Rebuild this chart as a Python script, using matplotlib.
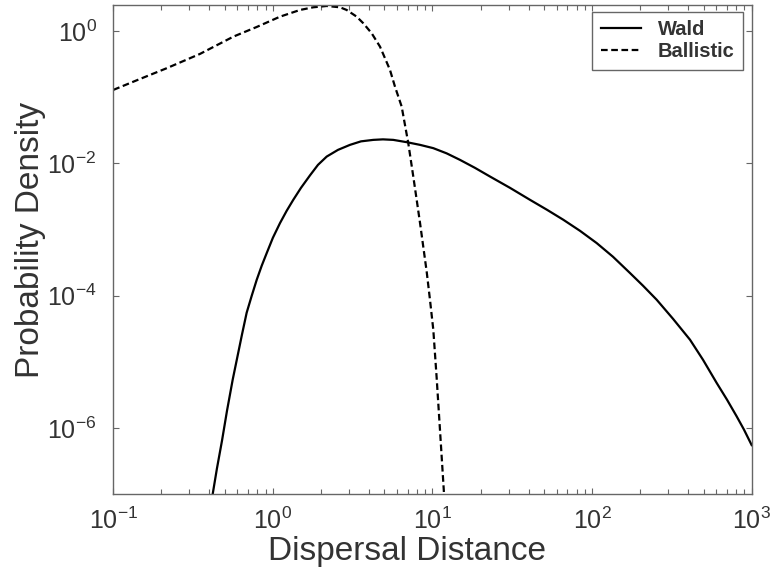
import numpy as np
import matplotlib
matplotlib.use("Agg")
import matplotlib.pyplot as plt
from matplotlib.ticker import LogLocator, FixedLocator, LogFormatterSciNotation, NullLocator

plt.rcParams['font.family'] = ['Liberation Sans', 'DejaVu Sans']
plt.rcParams['mathtext.fontset'] = 'custom'
plt.rcParams['mathtext.rm'] = 'Liberation Sans'
plt.rcParams['mathtext.default'] = 'regular'

# values
wald_x = [0.42, 0.446, 0.480, 0.516, 0.560, 0.596, 0.640, 0.685, 0.737, 0.792,
          0.851, 0.915, 1.00, 1.108, 1.22, 1.342, 1.50, 1.708, 1.917, 2.174,
          2.558, 3.042, 3.565, 4.257, 4.895, 5.680, 6.891, 8.352, 10.12, 12.27,
          14.87, 18.46, 22.93, 30.59, 40.83, 52.17, 65.99, 84.0, 106.9, 135.2,
          172.8, 208.4, 254.0, 321.2, 410.7, 495.4, 603.6, 700.2, 805.4, 894.9, 1000]
wald_y = [1.01e-7, 2.42e-7, 6.41e-7, 1.82e-6, 5.35e-6, 1.11e-5, 2.56e-5, 5.50e-5,
          9.93e-5, 1.73e-4, 2.82e-4, 4.39e-4, 7.47e-4, 1.245e-3, 1.91e-3, 2.80e-3,
          4.25e-3, 6.56e-3, 9.46e-3, 0.01262, 0.01593, 0.01897, 0.02143, 0.02256,
          0.02297, 0.02256, 0.02083, 0.01897, 0.01691, 0.01411, 0.01125, 8.52e-3,
          6.30e-3, 4.25e-3, 2.80e-3, 1.98e-3, 1.40e-3, 9.52e-4, 6.21e-4, 3.86e-4,
          2.19e-4, 1.41e-4, 8.64e-5, 4.46e-5, 2.15e-5, 1.07e-5, 4.77e-6, 2.67e-6,
          1.49e-6, 9.40e-7, 5.48e-7]

ball_x = [0.1, 0.147, 0.216, 0.349, 0.565, 0.792, 1.108, 1.478, 1.791, 2.174,
          2.633, 2.900, 3.351, 3.685, 4.159, 4.691, 5.04, 5.416, 5.821, 6.412,
          6.724, 7.054, 7.581, 7.962, 8.352, 8.757, 9.199, 9.645, 10.12, 10.62,
          11.14, 11.81, 12.15]
ball_y = [0.1285, 0.188, 0.2733, 0.4494, 0.8202, 1.149, 1.644, 2.076, 2.280, 2.386,
          2.280, 2.076, 1.644, 1.307, 0.923, 0.579, 0.387, 0.2576, 0.1441, 0.0719,
          0.0380, 0.0201, 6.30e-3, 2.80e-3, 1.26e-3, 5.46e-4, 2.29e-4, 8.64e-5,
          3.04e-5, 5.73e-6, 9.40e-7, 1.01e-7, 4.1e-8]

series_names = ["Wald", "Ballistic"]
x_limits = (0.1, 1000)
y_limits = (1e-7, 2.47)
y_ticks = [1e0, 1e-2, 1e-4, 1e-6]

text_col = '#333333'
axis_col = '#666666'

fig = plt.figure(figsize=(7.77, 5.73), dpi=100)
ax = fig.add_axes([0.1458, 0.1379, 0.8216, 0.8534])

ax.plot(wald_x, wald_y, color='black', lw=1.6, label=series_names[0])
ax.plot(ball_x, ball_y, color='black', lw=1.6, linestyle=(0, (3, 1.6)),
        label=series_names[1])

ax.set_xscale('log')
ax.set_yscale('log')
ax.set_xlim(*x_limits)
ax.set_ylim(*y_limits)

ax.xaxis.set_major_locator(LogLocator(base=10, numticks=10))
ax.xaxis.set_minor_locator(LogLocator(base=10, subs=np.arange(2, 10), numticks=20))
ax.xaxis.set_major_formatter(LogFormatterSciNotation())
ax.yaxis.set_major_locator(FixedLocator(y_ticks))
ax.yaxis.set_minor_locator(NullLocator())
ax.yaxis.set_major_formatter(LogFormatterSciNotation())

ax.tick_params(which='both', direction='in', top=True, right=True,
               color=axis_col, labelcolor=text_col, labelsize=18)
ax.tick_params(which='major', length=4.5, width=0.8)
ax.tick_params(which='minor', length=3.5, width=0.8)
ax.tick_params(axis='x', pad=10)
ax.tick_params(axis='y', pad=12)
for s in ax.spines.values():
    s.set_color(axis_col)
    s.set_linewidth(1.0)

ax.set_xlabel('Dispersal Distance', fontsize=24, color=text_col)
ax.set_ylabel('Probability Density', fontsize=24, color=text_col)
ax.xaxis.set_label_coords(0.46, -0.085)
ax.yaxis.set_label_coords(-0.105, 0.52)

leg = ax.legend(loc='upper right', bbox_to_anchor=(0.9868, 0.9863), borderaxespad=0,
                fancybox=False, prop={'weight': 'bold', 'size': 14.5},
                handlelength=2.0, handletextpad=0.85, borderpad=0.42,
                labelspacing=0.15, framealpha=1, edgecolor=axis_col)
leg.get_frame().set_linewidth(1.0)
for t in leg.get_texts():
    t.set_color(text_col)

fig.savefig('out.png', dpi=100)
